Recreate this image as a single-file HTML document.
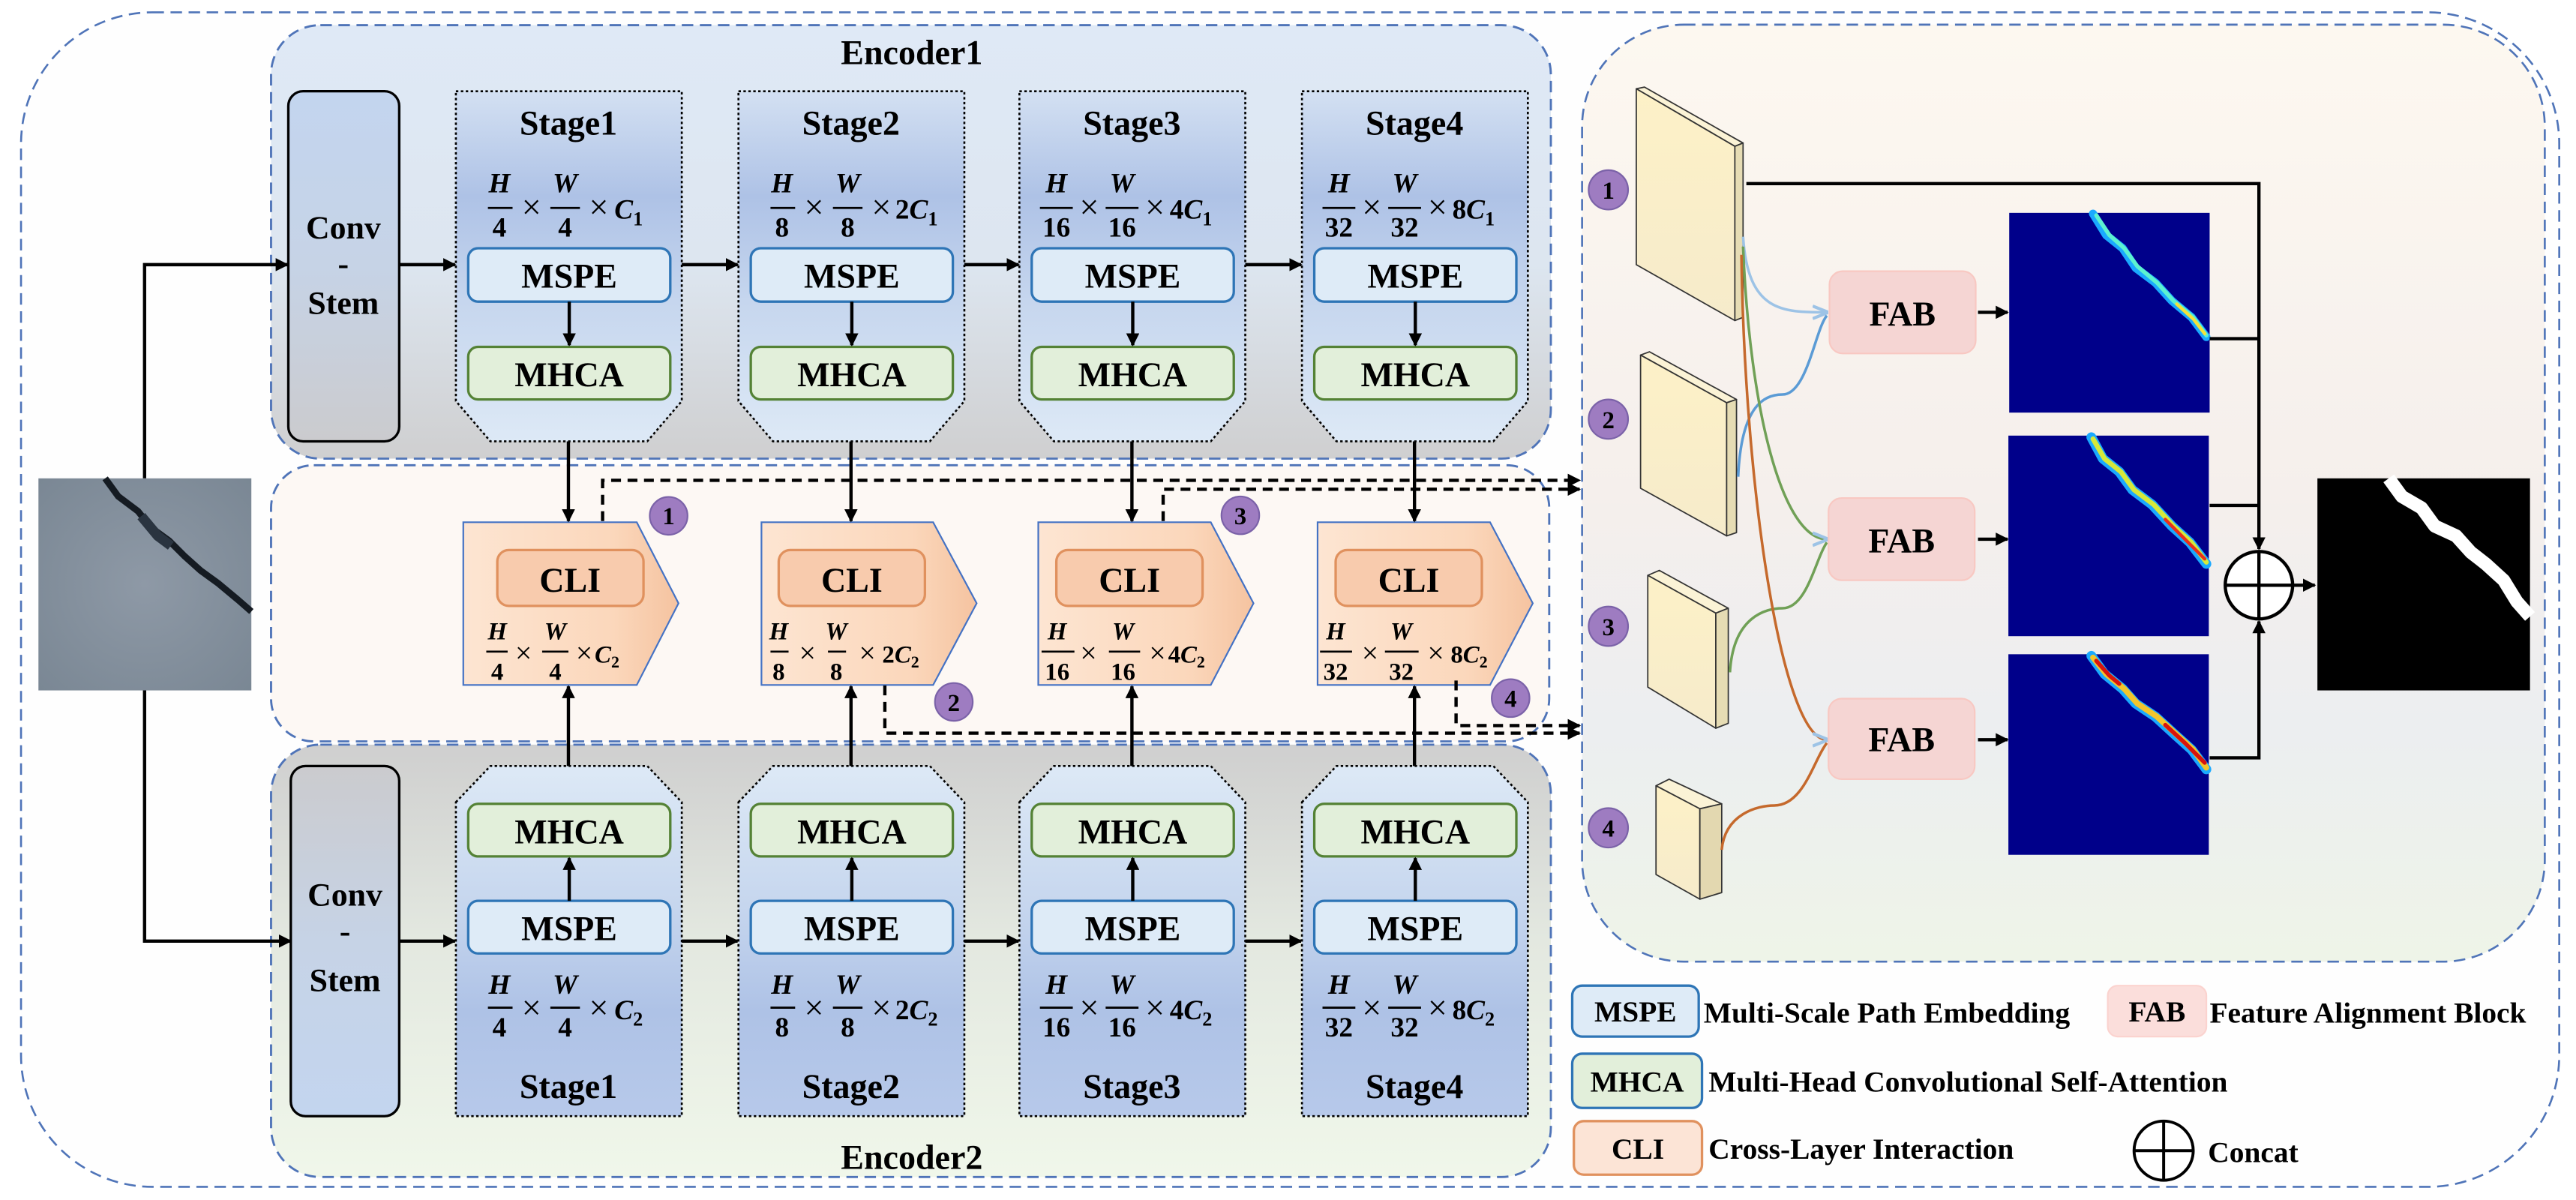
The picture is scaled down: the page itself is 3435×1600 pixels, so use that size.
<!DOCTYPE html>
<html><head><meta charset="utf-8"><style>
html,body{margin:0;padding:0;background:#fff;}
svg{display:block;}
text{font-family:"Liberation Serif",serif;font-weight:bold;fill:#000;}
.t{font-size:21px;}
.lg{font-size:18px;}
.fi{font-style:italic;font-size:17px;}
.fn{font-size:17px;}
.fx{font-size:21px;font-weight:normal;}
.ci{font-style:italic;font-size:15px;}
.cn{font-size:15px;}
.cx{font-size:18px;font-weight:normal;}
.num{font-family:"Liberation Sans",sans-serif;font-weight:normal;fill:#fff;font-size:15px;}
</style></head><body>
<svg width="3435" height="1600" viewBox="0 0 1568 730" preserveAspectRatio="none" xmlns="http://www.w3.org/2000/svg">
<defs>
<marker id="a" viewBox="0 0 10 10" refX="9" refY="5" markerWidth="4" markerHeight="4" orient="auto"><path d="M0,0L10,5L0,10z" fill="#000"/></marker>
<marker id="lb" viewBox="0 0 10 10" refX="9" refY="5" markerWidth="6" markerHeight="6" orient="auto"><path d="M0,1L10,5L0,9" fill="none" stroke="#9dc3e6" stroke-width="2"/></marker>
<linearGradient id="e1" x1="0" y1="0" x2="0" y2="1"><stop offset="0" stop-color="#dfe9f6"/><stop offset="0.55" stop-color="#dde6f0"/><stop offset="1" stop-color="#cfcfd0"/></linearGradient>
<linearGradient id="e2" x1="0" y1="0" x2="0" y2="1"><stop offset="0" stop-color="#cfcfcf"/><stop offset="0.45" stop-color="#e3e8e0"/><stop offset="1" stop-color="#f0f7ea"/></linearGradient>
<linearGradient id="st" x1="0" y1="0" x2="0" y2="1"><stop offset="0" stop-color="#d3e0f2"/><stop offset="0.3" stop-color="#aec2e6"/><stop offset="0.6" stop-color="#c6d6ee"/><stop offset="1" stop-color="#dde9f6"/></linearGradient>
<linearGradient id="sb" x1="0" y1="1" x2="0" y2="0"><stop offset="0" stop-color="#b7c9ea"/><stop offset="0.3" stop-color="#aec2e6"/><stop offset="0.6" stop-color="#c6d6ee"/><stop offset="1" stop-color="#dde9f6"/></linearGradient>
<linearGradient id="cs" x1="0" y1="0" x2="0" y2="1"><stop offset="0" stop-color="#c3d5ef"/><stop offset="0.5" stop-color="#c6d3e6"/><stop offset="1" stop-color="#cbcbce"/></linearGradient>
<linearGradient id="cs2" x1="0" y1="1" x2="0" y2="0"><stop offset="0" stop-color="#c3d5ef"/><stop offset="0.5" stop-color="#c6d3e6"/><stop offset="1" stop-color="#cbcbce"/></linearGradient>
<linearGradient id="cl" x1="0" y1="0" x2="1" y2="0"><stop offset="0" stop-color="#fde5d2"/><stop offset="0.7" stop-color="#fbd7bb"/><stop offset="1" stop-color="#f5c3a0"/></linearGradient>
<linearGradient id="rp" x1="0" y1="0" x2="0" y2="1"><stop offset="0" stop-color="#fdf8f0"/><stop offset="0.5" stop-color="#f5efec"/><stop offset="0.75" stop-color="#eceef0"/><stop offset="1" stop-color="#eef4e8"/></linearGradient>
<linearGradient id="bk" x1="0" y1="0" x2="0" y2="1"><stop offset="0" stop-color="#fdf1c7"/><stop offset="1" stop-color="#f6ebcb"/></linearGradient>
<radialGradient id="cr" cx="0.5" cy="0.5" r="0.7"><stop offset="0" stop-color="#8e99a6"/><stop offset="1" stop-color="#7a8794"/></radialGradient>
</defs>

<rect x="12.8" y="7.5" width="1545" height="714.5" rx="80" fill="#fefefe" stroke="#4f74b8" stroke-width="1.2" stroke-dasharray="7 4"/>
<rect x="963" y="15" width="586" height="570" rx="62" fill="url(#rp)" stroke="#4f74b8" stroke-width="1.2" stroke-dasharray="7 4"/>

<rect x="165" y="15.3" width="779" height="263.7" rx="30" fill="url(#e1)" stroke="#4f74b8" stroke-width="1.3" stroke-dasharray="7 4"/>
<text x="555" y="39" class="t" text-anchor="middle">Encoder1</text>
<rect x="165" y="283" width="778" height="168" rx="26" fill="#fdf8f4" stroke="#4f74b8" stroke-width="1.3" stroke-dasharray="7 4"/>
<rect x="165" y="453" width="779" height="263" rx="30" fill="url(#e2)" stroke="#4f74b8" stroke-width="1.3" stroke-dasharray="7 4"/>
<text x="555" y="711" class="t" text-anchor="middle">Encoder2</text>

<rect x="23.4" y="291" width="129.6" height="129" fill="url(#cr)"/>
<path d="M64,291 L72,302 L84,311 L92,321 L103,329 L112,338 L122,347 L133,355 L145,365 L153,372" stroke="#151b22" stroke-width="4" fill="none" stroke-linejoin="round"/>
<path d="M86,314 L96,326 L104,332" stroke="#2a3440" stroke-width="6" fill="none"/>

<path d="M88,291 V161 H175" fill="none" stroke="#000" stroke-width="2" marker-end="url(#a)"/>
<path d="M88,420 V572.5 H177" fill="none" stroke="#000" stroke-width="2" marker-end="url(#a)"/>

<rect x="175.5" y="55.5" width="67.5" height="213" rx="9" fill="url(#cs)" stroke="#000" stroke-width="1.5"/>
<text x="209" y="145" class="t" text-anchor="middle" style="font-size:20px">Conv</text>
<text x="209" y="167" class="t" text-anchor="middle" style="font-size:20px">-</text>
<text x="209" y="191" class="t" text-anchor="middle" style="font-size:20px">Stem</text>
<rect x="177" y="466" width="66" height="213" rx="9" fill="url(#cs2)" stroke="#000" stroke-width="1.5"/>
<text x="210" y="551" class="t" text-anchor="middle" style="font-size:20px">Conv</text>
<text x="210" y="573" class="t" text-anchor="middle" style="font-size:20px">-</text>
<text x="210" y="603" class="t" text-anchor="middle" style="font-size:20px">Stem</text>

<g fill="url(#st)" stroke="#000" stroke-width="1.2" stroke-dasharray="1.5 1.5">
<path d="M277.5,55.5 H415 V244 L394,268.5 H298.5 L277.5,244 Z"/>
<path d="M449.5,55.5 H587 V244 L566,268.5 H470.5 L449.5,244 Z"/>
<path d="M620.5,55.5 H758 V244 L737,268.5 H641.5 L620.5,244 Z"/>
<path d="M792.5,55.5 H930 V244 L909,268.5 H813.5 L792.5,244 Z"/>
</g>
<g fill="url(#sb)" stroke="#000" stroke-width="1.2" stroke-dasharray="1.5 1.5">
<path d="M277.5,488 L298.5,466 H394 L415,488 V679 H277.5 Z"/>
<path d="M449.5,488 L470.5,466 H566 L587,488 V679 H449.5 Z"/>
<path d="M620.5,488 L641.5,466 H737 L758,488 V679 H620.5 Z"/>
<path d="M792.5,488 L813.5,466 H909 L930,488 V679 H792.5 Z"/>
</g>

<g class="t" text-anchor="middle">
<text x="346" y="82">Stage1</text><text x="518" y="82">Stage2</text><text x="689" y="82">Stage3</text><text x="861" y="82">Stage4</text>
<text x="346" y="668">Stage1</text><text x="518" y="668">Stage2</text><text x="689" y="668">Stage3</text><text x="861" y="668">Stage4</text>
</g>

<g stroke-width="1.5">
<rect x="285" y="151" width="123" height="32.5" rx="6" fill="#deebf7" stroke="#2e75b6"/>
<rect x="457" y="151" width="123" height="32.5" rx="6" fill="#deebf7" stroke="#2e75b6"/>
<rect x="628" y="151" width="123" height="32.5" rx="6" fill="#deebf7" stroke="#2e75b6"/>
<rect x="800" y="151" width="123" height="32.5" rx="6" fill="#deebf7" stroke="#2e75b6"/>
<rect x="285" y="211" width="123" height="32" rx="6" fill="#e2efda" stroke="#548235"/>
<rect x="457" y="211" width="123" height="32" rx="6" fill="#e2efda" stroke="#548235"/>
<rect x="628" y="211" width="123" height="32" rx="6" fill="#e2efda" stroke="#548235"/>
<rect x="800" y="211" width="123" height="32" rx="6" fill="#e2efda" stroke="#548235"/>
<rect x="285" y="489" width="123" height="32" rx="6" fill="#e2efda" stroke="#548235"/>
<rect x="457" y="489" width="123" height="32" rx="6" fill="#e2efda" stroke="#548235"/>
<rect x="628" y="489" width="123" height="32" rx="6" fill="#e2efda" stroke="#548235"/>
<rect x="800" y="489" width="123" height="32" rx="6" fill="#e2efda" stroke="#548235"/>
<rect x="285" y="548" width="123" height="32" rx="6" fill="#deebf7" stroke="#2e75b6"/>
<rect x="457" y="548" width="123" height="32" rx="6" fill="#deebf7" stroke="#2e75b6"/>
<rect x="628" y="548" width="123" height="32" rx="6" fill="#deebf7" stroke="#2e75b6"/>
<rect x="800" y="548" width="123" height="32" rx="6" fill="#deebf7" stroke="#2e75b6"/>
</g>
<g class="t" text-anchor="middle">
<text x="346.5" y="175">MSPE</text><text x="518.5" y="175">MSPE</text><text x="689.5" y="175">MSPE</text><text x="861.5" y="175">MSPE</text>
<text x="346.5" y="235">MHCA</text><text x="518.5" y="235">MHCA</text><text x="689.5" y="235">MHCA</text><text x="861.5" y="235">MHCA</text>
<text x="346.5" y="513">MHCA</text><text x="518.5" y="513">MHCA</text><text x="689.5" y="513">MHCA</text><text x="861.5" y="513">MHCA</text>
<text x="346.5" y="572">MSPE</text><text x="518.5" y="572">MSPE</text><text x="689.5" y="572">MSPE</text><text x="861.5" y="572">MSPE</text>
</g>

<!-- top fractions -->
<g>
<text class="fi" x="304" y="117" text-anchor="middle">H</text><line x1="297" y1="126.5" x2="312" y2="126.5" stroke="#000" stroke-width="1.3"/><text class="fn" x="304" y="144" text-anchor="middle">4</text>
<text class="fx" x="323.5" y="133" text-anchor="middle">×</text>
<text class="fi" x="344" y="117" text-anchor="middle">W</text><line x1="335" y1="126.5" x2="353" y2="126.5" stroke="#000" stroke-width="1.3"/><text class="fn" x="344" y="144" text-anchor="middle">4</text>
<text class="fx" x="364.5" y="133" text-anchor="middle">×</text>
<text class="fi" x="374" y="133">C<tspan style="font-size:12px;font-style:normal" dy="4">1</tspan></text>
</g>
<g>
<text class="fi" x="476" y="117" text-anchor="middle">H</text><line x1="469" y1="126.5" x2="484" y2="126.5" stroke="#000" stroke-width="1.3"/><text class="fn" x="476" y="144" text-anchor="middle">8</text>
<text class="fx" x="495.5" y="133" text-anchor="middle">×</text>
<text class="fi" x="516" y="117" text-anchor="middle">W</text><line x1="507" y1="126.5" x2="525" y2="126.5" stroke="#000" stroke-width="1.3"/><text class="fn" x="516" y="144" text-anchor="middle">8</text>
<text class="fx" x="536.5" y="133" text-anchor="middle">×</text>
<text class="fi" x="545" y="133"><tspan style="font-style:normal">2</tspan>C<tspan style="font-size:12px;font-style:normal" dy="4">1</tspan></text>
</g>
<g>
<text class="fi" x="643" y="117" text-anchor="middle">H</text><line x1="633" y1="126.5" x2="653" y2="126.5" stroke="#000" stroke-width="1.3"/><text class="fn" x="643" y="144" text-anchor="middle">16</text>
<text class="fx" x="663" y="133" text-anchor="middle">×</text>
<text class="fi" x="683" y="117" text-anchor="middle">W</text><line x1="673" y1="126.5" x2="693" y2="126.5" stroke="#000" stroke-width="1.3"/><text class="fn" x="683" y="144" text-anchor="middle">16</text>
<text class="fx" x="703" y="133" text-anchor="middle">×</text>
<text class="fi" x="712" y="133"><tspan style="font-style:normal">4</tspan>C<tspan style="font-size:12px;font-style:normal" dy="4">1</tspan></text>
</g>
<g>
<text class="fi" x="815" y="117" text-anchor="middle">H</text><line x1="805" y1="126.5" x2="825" y2="126.5" stroke="#000" stroke-width="1.3"/><text class="fn" x="815" y="144" text-anchor="middle">32</text>
<text class="fx" x="835" y="133" text-anchor="middle">×</text>
<text class="fi" x="855" y="117" text-anchor="middle">W</text><line x1="845" y1="126.5" x2="865" y2="126.5" stroke="#000" stroke-width="1.3"/><text class="fn" x="855" y="144" text-anchor="middle">32</text>
<text class="fx" x="875" y="133" text-anchor="middle">×</text>
<text class="fi" x="884" y="133"><tspan style="font-style:normal">8</tspan>C<tspan style="font-size:12px;font-style:normal" dy="4">1</tspan></text>
</g>

<!-- bottom fractions -->
<g>
<text class="fi" x="304" y="604.6" text-anchor="middle">H</text><line x1="297" y1="613" x2="312" y2="613" stroke="#000" stroke-width="1.3"/><text class="fn" x="304" y="630.6" text-anchor="middle">4</text>
<text class="fx" x="323.5" y="620" text-anchor="middle">×</text>
<text class="fi" x="344" y="604.6" text-anchor="middle">W</text><line x1="335" y1="613" x2="353" y2="613" stroke="#000" stroke-width="1.3"/><text class="fn" x="344" y="630.6" text-anchor="middle">4</text>
<text class="fx" x="364.5" y="620" text-anchor="middle">×</text>
<text class="fi" x="374" y="620">C<tspan style="font-size:12px;font-style:normal" dy="4">2</tspan></text>
</g>
<g>
<text class="fi" x="476" y="604.6" text-anchor="middle">H</text><line x1="469" y1="613" x2="484" y2="613" stroke="#000" stroke-width="1.3"/><text class="fn" x="476" y="630.6" text-anchor="middle">8</text>
<text class="fx" x="495.5" y="620" text-anchor="middle">×</text>
<text class="fi" x="516" y="604.6" text-anchor="middle">W</text><line x1="507" y1="613" x2="525" y2="613" stroke="#000" stroke-width="1.3"/><text class="fn" x="516" y="630.6" text-anchor="middle">8</text>
<text class="fx" x="536.5" y="620" text-anchor="middle">×</text>
<text class="fi" x="545" y="620"><tspan style="font-style:normal">2</tspan>C<tspan style="font-size:12px;font-style:normal" dy="4">2</tspan></text>
</g>
<g>
<text class="fi" x="643" y="604.6" text-anchor="middle">H</text><line x1="633" y1="613" x2="653" y2="613" stroke="#000" stroke-width="1.3"/><text class="fn" x="643" y="630.6" text-anchor="middle">16</text>
<text class="fx" x="663" y="620" text-anchor="middle">×</text>
<text class="fi" x="683" y="604.6" text-anchor="middle">W</text><line x1="673" y1="613" x2="693" y2="613" stroke="#000" stroke-width="1.3"/><text class="fn" x="683" y="630.6" text-anchor="middle">16</text>
<text class="fx" x="703" y="620" text-anchor="middle">×</text>
<text class="fi" x="712" y="620"><tspan style="font-style:normal">4</tspan>C<tspan style="font-size:12px;font-style:normal" dy="4">2</tspan></text>
</g>
<g>
<text class="fi" x="815" y="604.6" text-anchor="middle">H</text><line x1="805" y1="613" x2="825" y2="613" stroke="#000" stroke-width="1.3"/><text class="fn" x="815" y="630.6" text-anchor="middle">32</text>
<text class="fx" x="835" y="620" text-anchor="middle">×</text>
<text class="fi" x="855" y="604.6" text-anchor="middle">W</text><line x1="845" y1="613" x2="865" y2="613" stroke="#000" stroke-width="1.3"/><text class="fn" x="855" y="630.6" text-anchor="middle">32</text>
<text class="fx" x="875" y="620" text-anchor="middle">×</text>
<text class="fi" x="884" y="620"><tspan style="font-style:normal">8</tspan>C<tspan style="font-size:12px;font-style:normal" dy="4">2</tspan></text>
</g>

<g fill="url(#cl)" stroke="#4472c4" stroke-width="1">
<path d="M282,317.7 H387.6 L413,367 L387.6,416.7 H282 Z"/>
<path d="M463.5,317.7 H568 L594.5,367 L568,416.7 H463.5 Z"/>
<path d="M632,317.7 H737 L763,367 L737,416.7 H632 Z"/>
<path d="M802,317.7 H907 L933,367 L907,416.7 H802 Z"/>
</g>
<g fill="#f8cbad" stroke="#e0915e" stroke-width="1.5">
<rect x="302.7" y="334.6" width="89" height="34" rx="7"/>
<rect x="474" y="334.6" width="89" height="34" rx="7"/>
<rect x="643" y="334.6" width="89" height="34" rx="7"/>
<rect x="813" y="334.6" width="89" height="34" rx="7"/>
</g>
<g class="t" text-anchor="middle">
<text x="347" y="360">CLI</text><text x="518.5" y="360">CLI</text><text x="687.5" y="360">CLI</text><text x="857.5" y="360">CLI</text>
</g>
<g>
<text class="ci" x="302.7" y="389" text-anchor="middle">H</text><line x1="296" y1="396.4" x2="309" y2="396.4" stroke="#000" stroke-width="1.2"/><text class="cn" x="302.7" y="413.7" text-anchor="middle">4</text>
<text class="cx" x="318.7" y="403" text-anchor="middle">×</text>
<text class="ci" x="338" y="389" text-anchor="middle">W</text><line x1="330" y1="396.4" x2="346" y2="396.4" stroke="#000" stroke-width="1.2"/><text class="cn" x="338" y="413.7" text-anchor="middle">4</text>
<text class="cx" x="355.6" y="403" text-anchor="middle">×</text>
<text class="ci" x="362" y="403">C<tspan style="font-size:10px;font-style:normal" dy="3">2</tspan></text>
</g>
<g>
<text class="ci" x="474" y="389" text-anchor="middle">H</text><line x1="469" y1="396.4" x2="480" y2="396.4" stroke="#000" stroke-width="1.2"/><text class="cn" x="474" y="413.7" text-anchor="middle">8</text>
<text class="cx" x="491.5" y="403" text-anchor="middle">×</text>
<text class="ci" x="509" y="389" text-anchor="middle">W</text><line x1="504" y1="396.4" x2="515" y2="396.4" stroke="#000" stroke-width="1.2"/><text class="cn" x="509" y="413.7" text-anchor="middle">8</text>
<text class="cx" x="528" y="403" text-anchor="middle">×</text>
<text class="ci" x="537" y="403"><tspan style="font-style:normal">2</tspan>C<tspan style="font-size:10px;font-style:normal" dy="3">2</tspan></text>
</g>
<g>
<text class="ci" x="643.5" y="389" text-anchor="middle">H</text><line x1="634" y1="396.4" x2="654" y2="396.4" stroke="#000" stroke-width="1.2"/><text class="cn" x="643.5" y="413.7" text-anchor="middle">16</text>
<text class="cx" x="662.6" y="403" text-anchor="middle">×</text>
<text class="ci" x="683.6" y="389" text-anchor="middle">W</text><line x1="675" y1="396.4" x2="694" y2="396.4" stroke="#000" stroke-width="1.2"/><text class="cn" x="683.6" y="413.7" text-anchor="middle">16</text>
<text class="cx" x="704.6" y="403" text-anchor="middle">×</text>
<text class="ci" x="711" y="403"><tspan style="font-style:normal">4</tspan>C<tspan style="font-size:10px;font-style:normal" dy="3">2</tspan></text>
</g>
<g>
<text class="ci" x="813" y="389" text-anchor="middle">H</text><line x1="803.5" y1="396.4" x2="823" y2="396.4" stroke="#000" stroke-width="1.2"/><text class="cn" x="813" y="413.7" text-anchor="middle">32</text>
<text class="cx" x="834" y="403" text-anchor="middle">×</text>
<text class="ci" x="853" y="389" text-anchor="middle">W</text><line x1="843" y1="396.4" x2="863.5" y2="396.4" stroke="#000" stroke-width="1.2"/><text class="cn" x="853" y="413.7" text-anchor="middle">32</text>
<text class="cx" x="874" y="403" text-anchor="middle">×</text>
<text class="ci" x="883" y="403"><tspan style="font-style:normal">8</tspan>C<tspan style="font-size:10px;font-style:normal" dy="3">2</tspan></text>
</g>

<g stroke="#000" stroke-width="2" fill="none" marker-end="url(#a)">
<line x1="243" y1="161" x2="277" y2="161"/>
<line x1="415" y1="161" x2="449" y2="161"/>
<line x1="587" y1="161" x2="620" y2="161"/>
<line x1="758" y1="161" x2="792" y2="161"/>
<line x1="243" y1="572.5" x2="277" y2="572.5"/>
<line x1="415" y1="572.5" x2="449" y2="572.5"/>
<line x1="587" y1="572.5" x2="620" y2="572.5"/>
<line x1="758" y1="572.5" x2="792" y2="572.5"/>
<line x1="346.5" y1="183.5" x2="346.5" y2="210"/>
<line x1="518.5" y1="183.5" x2="518.5" y2="210"/>
<line x1="689.5" y1="183.5" x2="689.5" y2="210"/>
<line x1="861.5" y1="183.5" x2="861.5" y2="210"/>
<line x1="346.5" y1="548" x2="346.5" y2="522"/>
<line x1="518.5" y1="548" x2="518.5" y2="522"/>
<line x1="689.5" y1="548" x2="689.5" y2="522"/>
<line x1="861.5" y1="548" x2="861.5" y2="522"/>
<line x1="346" y1="268.5" x2="346" y2="317"/>
<line x1="518" y1="268.5" x2="518" y2="317"/>
<line x1="689" y1="268.5" x2="689" y2="317"/>
<line x1="861" y1="268.5" x2="861" y2="317"/>
<line x1="346" y1="466" x2="346" y2="417.5"/>
<line x1="518" y1="466" x2="518" y2="417.5"/>
<line x1="689" y1="466" x2="689" y2="417.5"/>
<line x1="861" y1="466" x2="861" y2="417.5"/>
</g>

<g stroke="#000" stroke-width="2" fill="none" stroke-dasharray="6 4" marker-end="url(#a)">
<path d="M366.8,317 V292.2 H961.5"/>
<path d="M708,317 V297.6 H961.5"/>
<path d="M538.6,417 V446 H961.5"/>
<path d="M886.3,414 V441.4 H961.5"/>
</g>

<g fill="#9e7cc1" stroke="#7b62a8" stroke-width="1">
<circle cx="407" cy="313.8" r="11.5"/><circle cx="580.6" cy="427" r="11.5"/><circle cx="755" cy="313.5" r="11.5"/><circle cx="919.5" cy="424.7" r="11.5"/>
<circle cx="979" cy="115.5" r="12"/><circle cx="979" cy="255" r="12"/><circle cx="979" cy="381" r="12"/><circle cx="979" cy="503.6" r="12"/>
</g>
<g class="num" text-anchor="middle">
<text x="407" y="319">1</text><text x="580.6" y="432.5">2</text><text x="755" y="319">3</text><text x="919.5" y="430">4</text>
<text x="979" y="121">1</text><text x="979" y="260.5">2</text><text x="979" y="386.5">3</text><text x="979" y="509">4</text>
</g>

<g stroke="#333" stroke-width="0.8" stroke-linejoin="round">
<path d="M996,54 L1001,53 L1061,87 L1056,89 Z" fill="#fbf3d6"/>
<path d="M996,54 L1056,89 L1056,195 L996,161 Z" fill="url(#bk)"/>
<path d="M1056,89 L1061,87 L1061,193 L1056,195 Z" fill="#e6dcb4"/>
<path d="M998.6,216 L1004,214 L1057,243 L1051,245 Z" fill="#fbf3d6"/>
<path d="M998.6,216 L1051,245 L1051,326 L998.6,297 Z" fill="url(#bk)"/>
<path d="M1051,245 L1057,243 L1057,324 L1051,326 Z" fill="#e6dcb4"/>
<path d="M1003,350 L1010,347 L1052,370 L1044.4,373 Z" fill="#fbf3d6"/>
<path d="M1003,350 L1044.4,373 L1044.4,443 L1003,418 Z" fill="url(#bk)"/>
<path d="M1044.4,373 L1052,370 L1052,440 L1044.4,443 Z" fill="#e6dcb4"/>
<path d="M1008,478 L1016,474 L1048,489 L1034.7,492 Z" fill="#fbf3d6"/>
<path d="M1008,478 L1034.7,492 L1034.7,547 L1008,532 Z" fill="url(#bk)"/>
<path d="M1034.7,492 L1048,489 L1048,543 L1034.7,547 Z" fill="#e3d8b0"/>
</g>

<g fill="none" stroke-width="1.6">
<path d="M1061,144 C1064,190 1085,190 1112,190" stroke="#9dc3e6" marker-end="url(#lb)"/>
<path d="M1058,290 C1060,245 1075,240 1085,240 C1100,240 1105,200 1112,192" stroke="#5b9bd5"/>
<path d="M1061,150 C1065,250 1085,328 1112,328" stroke="#70a056" marker-end="url(#lb)"/>
<path d="M1053,409 C1055,375 1075,370 1085,370 C1100,370 1105,340 1112,330" stroke="#70a056"/>
<path d="M1060,155 C1062,300 1085,450 1112,450" stroke="#c5692c" marker-end="url(#lb)"/>
<path d="M1048,517 C1050,495 1070,490 1080,490 C1098,490 1104,462 1112,452" stroke="#c5692c"/>
</g>

<g fill="#f5d5d3" stroke="#f8c8c2" stroke-width="1">
<rect x="1113.6" y="165" width="89" height="50" rx="8"/>
<rect x="1113" y="303" width="89" height="50" rx="8"/>
<rect x="1113" y="425" width="89" height="49" rx="8"/>
</g>
<g class="t" text-anchor="middle">
<text x="1158" y="198">FAB</text><text x="1157.5" y="336">FAB</text><text x="1157.5" y="457">FAB</text>
</g>
<g stroke="#000" stroke-width="2" marker-end="url(#a)">
<line x1="1204" y1="190" x2="1222" y2="190"/>
<line x1="1204" y1="328" x2="1222" y2="328"/>
<line x1="1204" y1="450" x2="1222" y2="450"/>
</g>

<rect x="1223" y="129.5" width="122" height="121.5" fill="#00008a"/>
<rect x="1222.5" y="265" width="122" height="122" fill="#00008a"/>
<rect x="1222.5" y="398" width="122" height="122" fill="#00008a"/>
<g fill="none" stroke-linecap="round" stroke-linejoin="round">
<path d="M1274,130 L1282,143 L1292,151 L1300,163 L1312,172 L1322,183 L1334,193 L1343,205" stroke="#1aa9ff" stroke-width="5"/>
<path d="M1276,131 L1284,143 L1293,151 L1301,162 L1313,172 L1323,183 L1335,193 L1343,204" stroke="#5df2d0" stroke-width="2.5"/>
<path d="M1325,185 L1335,194 L1342,203" stroke="#f5e23a" stroke-width="2"/>
<path d="M1273,266 L1280,279 L1290,287 L1298,298 L1310,307 L1322,320 L1333,330 L1343,343" stroke="#1aa9ff" stroke-width="6"/>
<path d="M1274,267 L1281,279 L1291,287 L1299,298 L1311,307 L1323,320 L1334,330 L1343,342" stroke="#d6e93a" stroke-width="3"/>
<path d="M1318,316 L1328,326 L1342,340" stroke="#e8301c" stroke-width="2"/>
<path d="M1273,399 L1281,410 L1292,419 L1300,428 L1312,436 L1324,447 L1334,456 L1343,468" stroke="#1aa9ff" stroke-width="6"/>
<path d="M1274,400 L1282,410 L1293,419 L1301,428 L1313,436 L1325,447 L1335,456 L1343,467" stroke="#f3c62c" stroke-width="3.5"/>
<path d="M1276,402 L1284,411 L1290,416 M1318,441 L1330,452 L1342,464" stroke="#d8140e" stroke-width="2.5"/>
</g>

<g stroke="#000" stroke-width="2" fill="none">
<path d="M1063,111.7 H1375 V334" marker-end="url(#a)"/>
<path d="M1345,206 H1375"/>
<path d="M1345,307.5 H1375"/>
<path d="M1345,461 H1375 V378" marker-end="url(#a)"/>
<circle cx="1375" cy="356" r="20.5" fill="#fff"/>
<line x1="1354.5" y1="356" x2="1395.5" y2="356"/>
<line x1="1375" y1="335.5" x2="1375" y2="376.5"/>
<line x1="1395.5" y1="356" x2="1409" y2="356" marker-end="url(#a)"/>
</g>

<rect x="1410.6" y="291" width="129.4" height="129" fill="#000"/>
<path d="M1454,291 L1462,302 L1474,309 L1482,320 L1495,326 L1504,336 L1513,343 L1524,353 L1532,366 L1540,375" stroke="#fff" stroke-width="8" fill="none" stroke-linejoin="round"/>

<rect x="957" y="599.6" width="77" height="31" rx="6" fill="#deebf7" stroke="#2e75b6" stroke-width="1.5"/>
<text x="995.5" y="621.5" class="lg" text-anchor="middle">MSPE</text>
<text x="1037" y="622" class="lg">Multi-Scale Path Embedding</text>
<rect x="1283" y="599.6" width="60" height="31" rx="6" fill="#fbdedb" stroke="#fbd3cf" stroke-width="1"/>
<text x="1313" y="621.5" class="lg" text-anchor="middle">FAB</text>
<text x="1345" y="622" class="lg">Feature Alignment Block</text>
<rect x="957" y="641" width="79" height="33" rx="6" fill="#e2efda" stroke="#2e75b6" stroke-width="1.5"/>
<text x="996.5" y="664" class="lg" text-anchor="middle">MHCA</text>
<text x="1040" y="664" class="lg">Multi-Head Convolutional Self-Attention</text>
<rect x="958" y="682" width="78" height="32.6" rx="6" fill="#fce4d6" stroke="#e0915e" stroke-width="1.5"/>
<text x="997" y="705" class="lg" text-anchor="middle">CLI</text>
<text x="1040" y="705" class="lg">Cross-Layer Interaction</text>
<g stroke="#000" stroke-width="1.8" fill="#fff">
<circle cx="1317" cy="700" r="18"/>
<line x1="1299" y1="700" x2="1335" y2="700"/>
<line x1="1317" y1="682" x2="1317" y2="718"/>
</g>
<text x="1344" y="707" class="lg">Concat</text>
</svg>
</body></html>
